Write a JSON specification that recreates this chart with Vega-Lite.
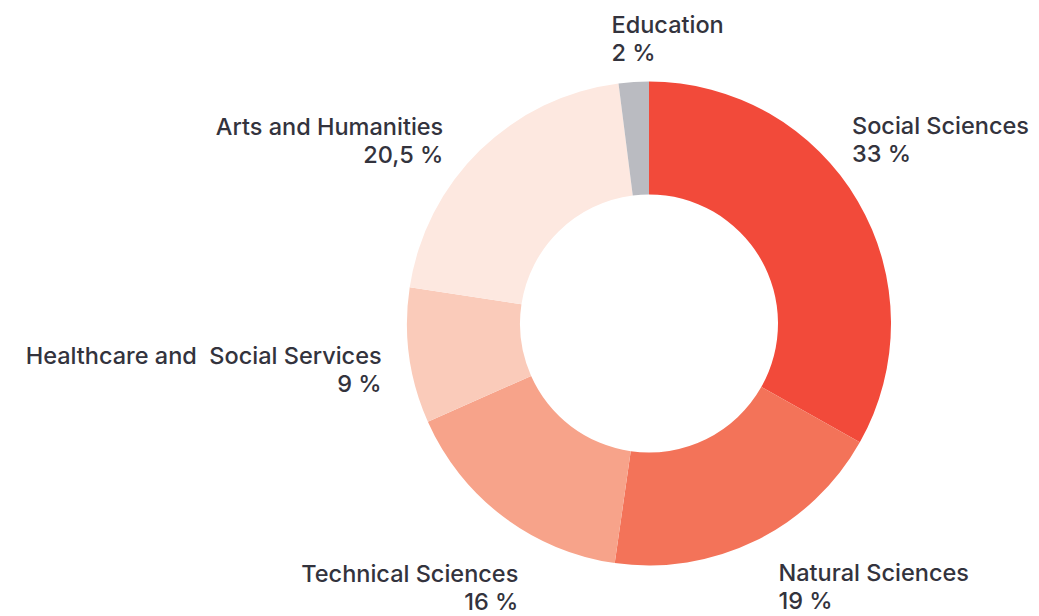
{
  "$schema": "https://vega.github.io/schema/vega-lite/v6.json",
  "width": 780,
  "height": 585,
  "autosize": {"type": "none"},
  "padding": {"left": 259, "top": 31, "right": 0, "bottom": 0},
  "background": "white",
  "config": {"view": {"stroke": null}, "text": {"font": "Inter"}},
  "data": {
    "values": [
      {"order": 1, "field": "Social Sciences", "value": 33, "label": "Social Sciences\n33 %"},
      {"order": 2, "field": "Natural Sciences", "value": 19, "label": "Natural Sciences\n19 %"},
      {"order": 3, "field": "Technical Sciences", "value": 16, "label": "Technical Sciences\n16 %"},
      {"order": 4, "field": "Healthcare and Social Services", "value": 9, "label": "Healthcare and\u00a0 Social Services\n9 %"},
      {"order": 5, "field": "Arts and Humanities", "value": 20.5, "label": "Arts and Humanities\n20,5 %"},
      {"order": 6, "field": "Education", "value": 2, "label": "Education\n2 %"}
    ]
  },
  "encoding": {
    "theta": {"field": "value", "type": "quantitative", "stack": true},
    "order": {"field": "order", "type": "quantitative"}
  },
  "layer": [
    {
      "mark": {"type": "arc", "outerRadius": 242, "innerRadius": 129},
      "encoding": {
        "color": {
          "field": "field",
          "type": "nominal",
          "scale": {
            "domain": ["Social Sciences", "Natural Sciences", "Technical Sciences", "Healthcare and Social Services", "Arts and Humanities", "Education"],
            "range": ["#f24a3a", "#f37359", "#f7a38a", "#facbba", "#fde8e0", "#babbc1"]
          },
          "legend": null
        }
      }
    },
    {
      "mark": {"type": "text", "radius": 293, "align": "left", "baseline": "middle", "lineBreak": "\n", "lineHeight": 28, "fontSize": 23.5, "fontWeight": 500, "color": "#33333d", "dx": -50, "dy": -49},
      "encoding": {"text": {"condition": {"test": "datum.field === 'Social Sciences'", "field": "label"}, "value": ""}}
    },
    {
      "mark": {"type": "text", "radius": 293, "align": "left", "baseline": "middle", "lineBreak": "\n", "lineHeight": 28, "fontSize": 23.5, "fontWeight": 500, "color": "#33333d", "dx": 0, "dy": -12},
      "encoding": {"text": {"condition": {"test": "datum.field === 'Natural Sciences'", "field": "label"}, "value": ""}}
    },
    {
      "mark": {"type": "text", "radius": 293, "align": "right", "baseline": "middle", "lineBreak": "\n", "lineHeight": 28, "fontSize": 23.5, "fontWeight": 500, "color": "#33333d", "dx": 46, "dy": 18},
      "encoding": {"text": {"condition": {"test": "datum.field === 'Technical Sciences'", "field": "label"}, "value": ""}}
    },
    {
      "mark": {"type": "text", "radius": 293, "align": "right", "baseline": "middle", "lineBreak": "\n", "lineHeight": 28, "fontSize": 23.5, "fontWeight": 500, "color": "#33333d", "dx": 23, "dy": -6},
      "encoding": {"text": {"condition": {"test": "datum.field === 'Healthcare and Social Services'", "field": "label"}, "value": ""}}
    },
    {
      "mark": {"type": "text", "radius": 293, "align": "right", "baseline": "middle", "lineBreak": "\n", "lineHeight": 28, "fontSize": 23.5, "fontWeight": 500, "color": "#33333d", "dx": -1, "dy": 14},
      "encoding": {"text": {"condition": {"test": "datum.field === 'Arts and Humanities'", "field": "label"}, "value": ""}}
    },
    {
      "mark": {"type": "text", "radius": 293, "align": "left", "baseline": "middle", "lineBreak": "\n", "lineHeight": 28, "fontSize": 23.5, "fontWeight": 500, "color": "#33333d", "dx": -19, "dy": -5},
      "encoding": {"text": {"condition": {"test": "datum.field === 'Education'", "field": "label"}, "value": ""}}
    }
  ]
}
